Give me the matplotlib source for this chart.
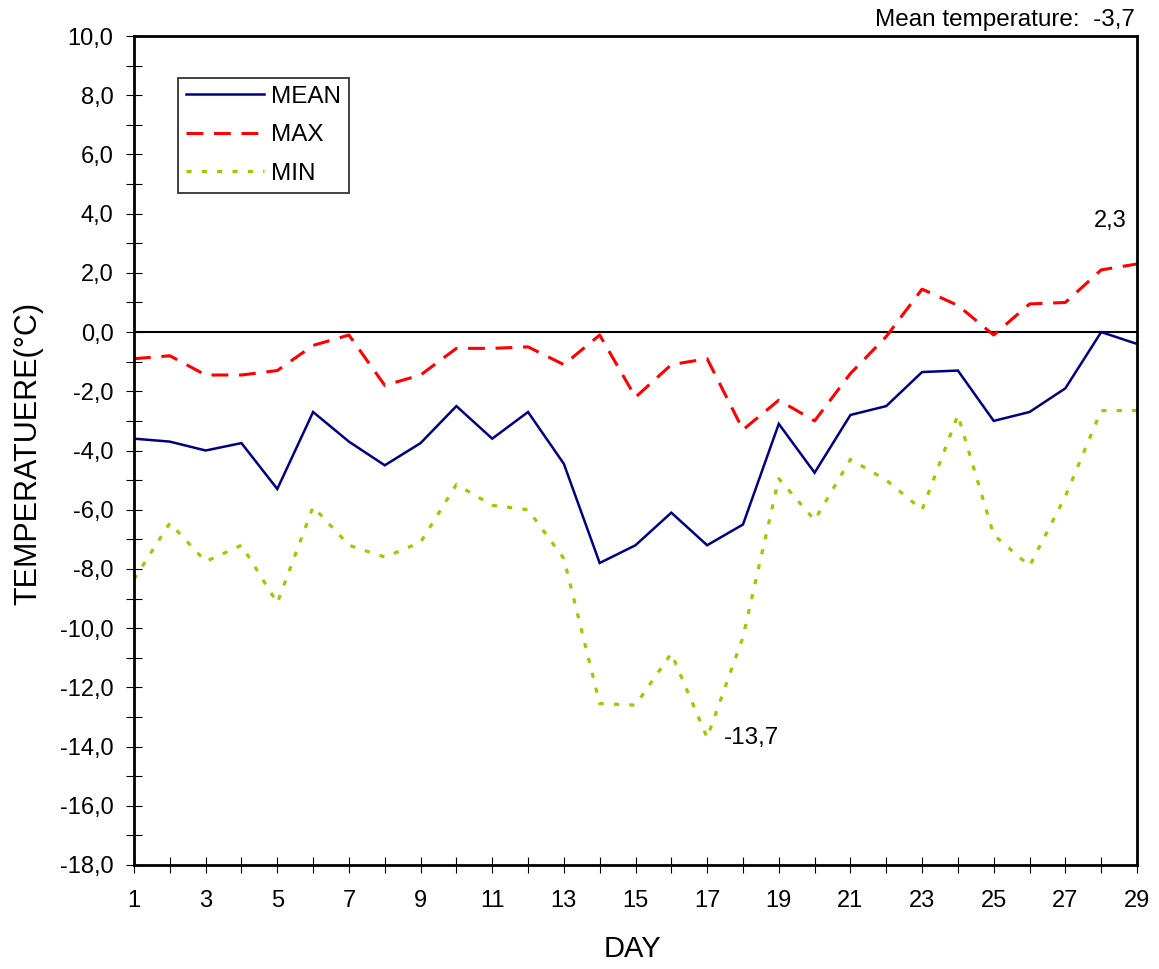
import matplotlib
matplotlib.use("Agg")
import matplotlib.pyplot as plt
from matplotlib.ticker import MultipleLocator, FuncFormatter, FixedLocator

plt.rcParams['font.family'] = ['Liberation Sans', 'DejaVu Sans']

days = list(range(1, 30))
mean_temp = [-3.6, -3.7, -4.0, -3.75, -5.3, -2.7, -3.7, -4.5, -3.75, -2.5,
             -3.6, -2.7, -4.45, -7.8, -7.2, -6.1, -7.2, -6.5, -3.1, -4.75,
             -2.8, -2.5, -1.35, -1.3, -3.0, -2.7, -1.9, 0.0, -0.4]
max_temp = [-0.9, -0.8, -1.45, -1.45, -1.3, -0.45, -0.1, -1.8, -1.45, -0.55,
            -0.55, -0.5, -1.1, -0.1, -2.2, -1.1, -0.9, -3.3, -2.3, -3.0,
            -1.4, -0.15, 1.45, 0.9, -0.1, 0.95, 1.0, 2.1, 2.3]
min_temp = [-8.35, -6.45, -7.75, -7.2, -9.15, -5.9, -7.2, -7.6, -7.1, -5.15,
            -5.85, -6.0, -7.65, -12.55, -12.6, -10.85, -13.7, -10.3, -4.95, -6.35,
            -4.3, -5.0, -6.0, -2.8, -6.85, -7.9, -5.55, -2.65, -2.65]
series_names = ["MEAN", "MAX", "MIN"]
monthly_mean = -3.7


def comma(v, decimals=1):
    return f"{v:.{decimals}f}".replace('.', ',')


W, H = 1159, 969
fig = plt.figure(figsize=(W / 100, H / 100), dpi=100)
ax = fig.add_axes([134 / W, 1 - 865 / H, (1137 - 134) / W, (865 - 36) / H])

ax.plot(days, mean_temp, color='#000080', lw=1.8, label=series_names[0],
        solid_joinstyle='miter')
ax.plot(days, max_temp, color='#FF0000', lw=2.2, linestyle=(0, (5.5, 3.5)),
        label=series_names[1])
ax.plot(days, min_temp, color='#99CC00', lw=2.3, linestyle=(0, (1.6, 3.2)),
        label=series_names[2])
ax.axhline(0, color='black', lw=1.5, zorder=1)

ax.set_xlim(1, 29)
ax.set_ylim(-18, 10)

ax.xaxis.set_major_locator(FixedLocator(days))
ax.set_xticklabels([str(d) if d % 2 == 1 else '' for d in days])
ax.yaxis.set_major_locator(MultipleLocator(2))
ax.yaxis.set_minor_locator(MultipleLocator(1))
ax.yaxis.set_major_formatter(FuncFormatter(lambda v, p: comma(v)))

ax.tick_params(axis='both', which='both', direction='inout', length=11.5,
               width=0.8, color='black')
ax.tick_params(axis='x', which='major', labelsize=17, pad=12)
ax.tick_params(axis='y', which='major', labelsize=17, pad=9)

for sp in ax.spines.values():
    sp.set_linewidth(2.0)
    sp.set_color('black')

ax.set_ylabel("TEMPERATUERE(°C)", fontsize=22)
ax.yaxis.label.set_va('center')
ax.yaxis.set_label_coords(-0.1057, 0.497)
ax.set_xlabel("DAY", fontsize=21)
ax.xaxis.label.set_va('center')
ax.xaxis.set_label_coords(0.4975, -0.1013)

leg = ax.legend(loc='upper left', bbox_to_anchor=(178 / W, 1 - 78 / H),
                bbox_transform=fig.transFigure, fontsize=17.5, frameon=True,
                fancybox=False, borderaxespad=0, handlelength=3.2,
                handletextpad=0.3, labelspacing=0.68, borderpad=0.32)
leg.get_frame().set_edgecolor('black')
leg.get_frame().set_linewidth(1.3)

ax.annotate(comma(max_temp[-1]), xy=(days[-1], max_temp[-1]),
            xytext=(-19.5, 31), textcoords='offset points',
            ha='center', va='center', fontsize=17)
imin = min_temp.index(min(min_temp))
ax.annotate(comma(min_temp[imin]), xy=(days[imin], min_temp[imin]),
            xytext=(12, 0), textcoords='offset points',
            ha='left', va='center', fontsize=17.5)

fig.text(1135 / W, 1 - 20 / H, f"Mean temperature:  {comma(monthly_mean)}",
         ha='right', va='center', fontsize=17.5)

fig.savefig("out.png", dpi=100)
